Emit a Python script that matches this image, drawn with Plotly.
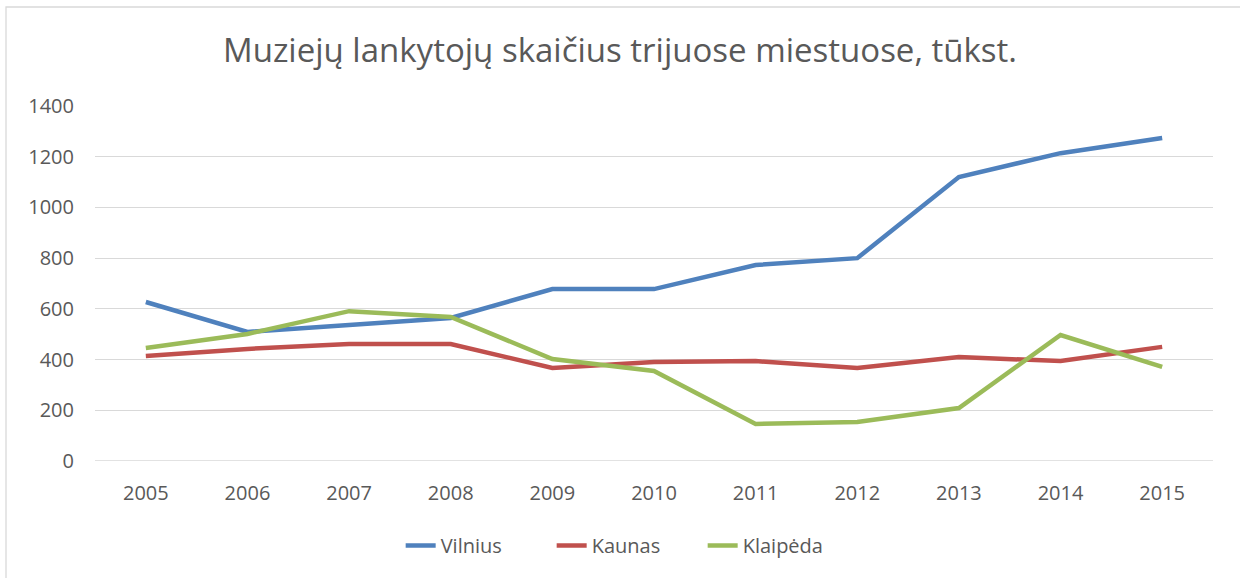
import plotly.graph_objects as go

years = ["2005", "2006", "2007", "2008", "2009", "2010", "2011", "2012", "2013", "2014", "2015"]
vilnius = [627, 509, 536, 564, 678, 678, 773, 800, 1120, 1214, 1274]
kaunas = [414, 442, 461, 461, 367, 390, 394, 367, 410, 394, 450]
klaipeda = [446, 501, 591, 568, 402, 355, 146, 154, 209, 497, 371]

series = [
    ("Vilnius", vilnius, "#4F81BD"),
    ("Kaunas", kaunas, "#C0504D"),
    ("Klaipėda", klaipeda, "#9BBB59"),
]

FONT = "Open Sans"
GRAY = "#595959"

fig = go.Figure()
for name, vals, color in series:
    fig.add_trace(go.Scatter(
        x=years, y=vals, name=name, mode="lines",
        line=dict(color=color, width=4.5, shape="linear"),
        hoverinfo="x+y+name",
    ))

fig.update_layout(
    width=1240, height=578,
    margin=dict(l=95, r=27, t=106, b=117, autoexpand=False),
    paper_bgcolor="white", plot_bgcolor="white",
    font=dict(family=FONT, color=GRAY, size=20),
    title=dict(
        text="Muziejų lankytojų skaičius trijuose miestuose, tūkst.",
        x=0.5, xref="container", xanchor="center",
        y=1 - 50 / 578, yref="container", yanchor="middle",
        font=dict(family=FONT, size=33, color=GRAY),
    ),
    xaxis=dict(
        type="category", range=[-0.5, 10.5], automargin=False,
        showgrid=False, showline=False, zeroline=False, ticks="",
        tickfont=dict(size=20, color=GRAY),
        ticklabelstandoff=18,
    ),
    yaxis=dict(
        range=[0, 1400], dtick=200, tick0=0, automargin=False,
        showgrid=True, gridcolor="#D9D9D9", gridwidth=1.3,
        zeroline=False, showline=False, ticks="",
        tickfont=dict(size=20, color=GRAY),
        ticklabelstandoff=20,
    ),
    legend=dict(
        orientation="h", x=0.476, xanchor="center",
        y=-0.183, yanchor="top",
        font=dict(size=20, color=GRAY),
        entrywidth=106, entrywidthmode="pixels",
    ),
    showlegend=True,
)

# Bottom gridline at zero
fig.add_shape(type="line", xref="paper", yref="y", x0=0, x1=1, y0=0, y1=0,
              line=dict(color="#D9D9D9", width=1.3), layer="below")

# Chart-area frame
fig.add_shape(type="rect", xref="paper", yref="paper",
              x0=-0.0796, x1=1.1, y0=-0.5, y1=1.2789,
              line=dict(color="#D9D9D9", width=1.3), layer="below")

fig.write_html("out.html")
